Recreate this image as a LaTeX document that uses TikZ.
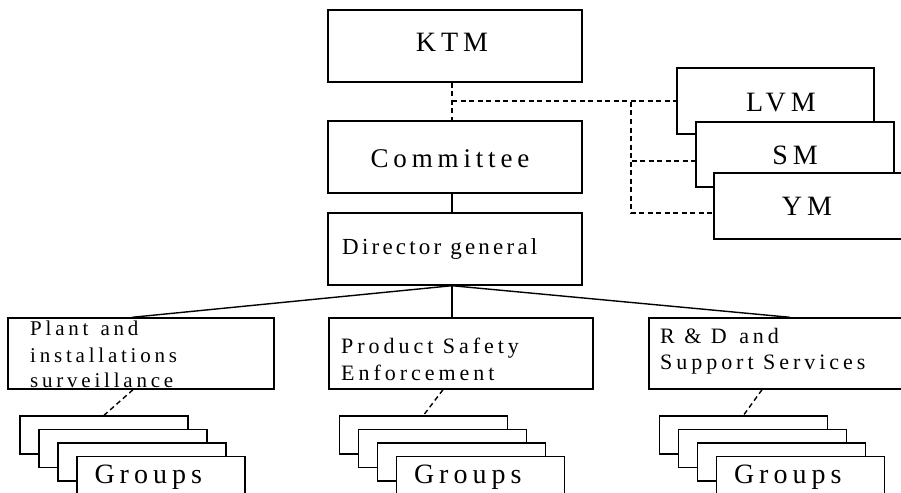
\documentclass[tikz,border=0pt]{standalone}
\usepackage{fontspec}
\setmainfont{Liberation Serif}
\newfontfamily\lsf[LetterSpace=18]{Liberation Serif}
\newfontfamily\lsg[LetterSpace=14]{Liberation Serif}
\usetikzlibrary{calc}
\begin{document}
\begin{tikzpicture}[x=1pt,y=-1pt,
  box/.style={draw,fill=white,line width=1.4pt,inner sep=0pt,rectangle},
  dsh/.style={line width=1.4pt,dash pattern=on 5pt off 3.5pt},
  ln/.style={line width=1.4pt},
  txt/.style={inner sep=0pt,anchor=base},
  txl/.style={inner sep=0pt,anchor=base west},
  fbig/.style={font=\lsf\fontsize{28}{30}\selectfont},
  fmid/.style={font=\lsg\fontsize{23}{25}\selectfont},
  fsm/.style={font=\lsf\fontsize{21}{23}\selectfont},
  fsb/.style={font=\lsf\fontsize{22}{24}\selectfont}]
\useasboundingbox (0,0) rectangle (901,492);
\clip (0,0) rectangle (901,492);
% main column
\node[box,minimum width=254pt,minimum height=72pt] (ktm) at (455,46) {};
\node[box,minimum width=254pt,minimum height=72pt] (com) at (455,157) {};
\node[box,minimum width=254pt,minimum height=72pt] (dir) at (455,249) {};
\node[txt,fbig] at (452,52) {KTM};
\node[txt,font=\lsf\fontsize{27}{29}\selectfont] at (450,167) {Committee};
\node[txl,fmid] at (342,254) {Director general};
% ministries
\node[box,minimum width=197pt,minimum height=66pt] (lvm) at (775.5,101) {};
\node[box,minimum width=198pt,minimum height=65pt] (sm) at (795,154.5) {};
\node[box,minimum width=198pt,minimum height=66pt] (ym) at (813,206) {};
\node[txt,fbig] at (781,112) {LVM};
\node[txt,fbig] at (795,164) {SM};
\node[txt,fbig] at (807,215) {YM};
% departments
\node[box,minimum width=266pt,minimum height=71pt] (pl) at (141,353.5) {};
\node[box,minimum width=264pt,minimum height=71pt] (pr) at (461,353.5) {};
\node[box,minimum width=265pt,minimum height=71pt] (rd) at (781.5,353.5) {};
\node[txl,fsm] at (30,335) {Plant\hspace{3pt} and};
\node[txl,fsm] at (30,362) {installations};
\node[txl,fsm] at (30,387) {surveillance};
\node[txl,fsb] at (341,353) {Product Safety};
\node[txl,fsb] at (341,380) {Enforcement};
\node[txl,fsb] at (660,343) {R \& D\hspace{3pt} and};
\node[txl,fsb] at (660,369) {Support Services};
% groups
\foreach \n/\x in {a/104,b/423.5,c/743.5}{
  \foreach \k in {0,...,3}{
    \node[box,minimum width=168pt,minimum height=38pt] (g\n\k) at (\x+19*\k,435+13.5*\k) {};
  }
  \node[txl,fbig] at ([xshift=18pt,yshift=-28pt]g\n3.north west) {Groups};
}
% connectors
\draw[dsh] ([xshift=-3pt]ktm.south) -- ([xshift=-3pt]com.north);
\coordinate (j0) at ([xshift=-3pt]ktm.south |- lvm.west);
\draw[dsh] (j0) -- (lvm.west);
\coordinate (j1) at (631,102);
\draw[dsh] (j1) |- ([yshift=-6.5pt]sm.west);
\draw[dsh] (j1) |- ([yshift=-7pt]ym.west);
\draw[ln] ([xshift=-3pt]com.south) -- ([xshift=-3pt]dir.north);
\coordinate (d0) at ([xshift=-3pt]dir.south);
\draw[ln] (d0) -- ([xshift=-9pt]pl.north);
\draw[ln] (d0) -- ([xshift=-9pt]pr.north);
\draw[ln] (d0) -- ([xshift=8.5pt]rd.north);
\draw[dsh] ([xshift=-8pt]pl.south) -- (ga0.north);
\draw[dsh] ([xshift=-18pt]pr.south) -- (gb0.north);
\draw[dsh] ([xshift=-19.5pt]rd.south) -- (gc0.north);
\end{tikzpicture}
\end{document}
